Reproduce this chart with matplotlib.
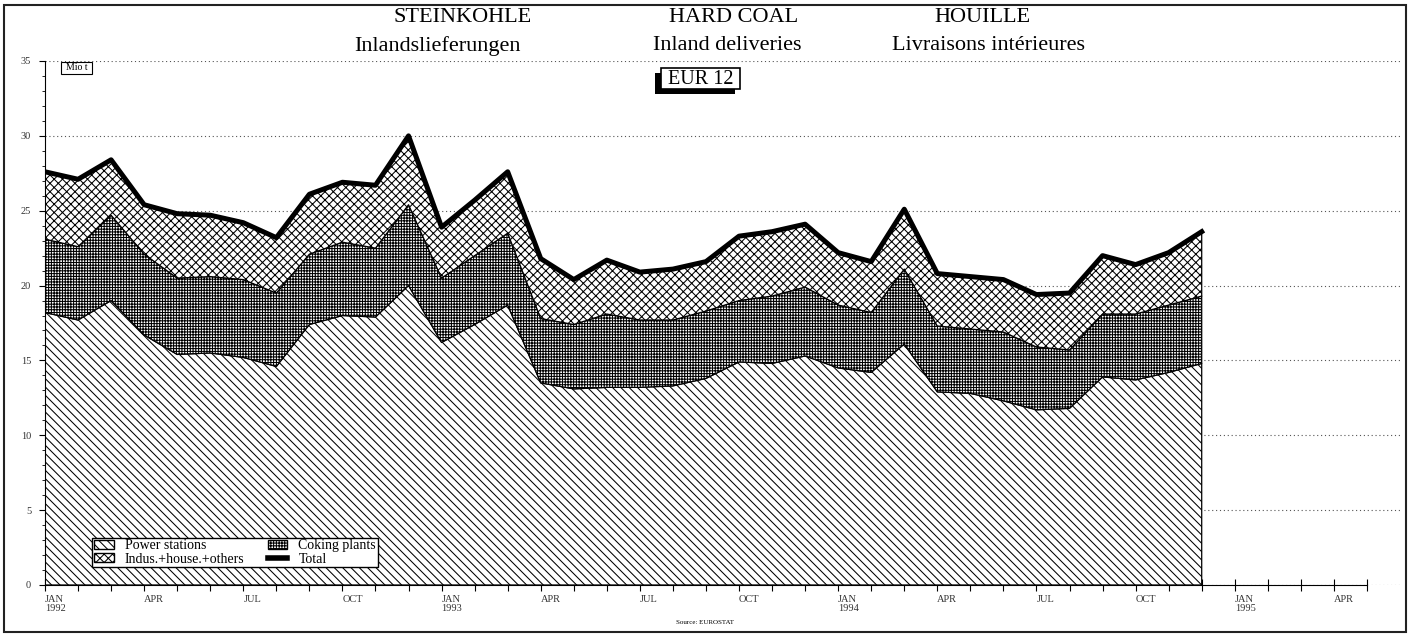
import matplotlib.pyplot as plt
import numpy as np
from matplotlib.patches import Patch, Rectangle
from matplotlib.lines import Line2D

# Monatswerte JAN 1992 .. DEC 1994 (Mio t)
power = [18.2, 17.7, 19.0, 16.7, 15.4, 15.5, 15.2, 14.6, 17.4, 18.0, 17.9, 20.0,
         16.2, 17.4, 18.7, 13.5, 13.1, 13.2, 13.2, 13.3, 13.8, 14.9, 14.8, 15.3,
         14.5, 14.2, 16.1, 12.9, 12.8, 12.3, 11.7, 11.8, 13.9, 13.7, 14.2, 14.8]
coking = [4.9, 4.9, 5.7, 5.4, 5.1, 5.1, 5.2, 4.9, 4.7, 4.9, 4.6, 5.4,
          4.3, 4.6, 4.8, 4.3, 4.3, 4.9, 4.5, 4.4, 4.5, 4.1, 4.5, 4.6,
          4.2, 4.0, 5.0, 4.4, 4.3, 4.6, 4.2, 3.9, 4.2, 4.4, 4.5, 4.5]
indus = [4.5, 4.5, 3.7, 3.3, 4.3, 4.1, 3.8, 3.7, 4.0, 4.0, 4.2, 4.6,
         3.4, 3.7, 4.1, 4.0, 3.0, 3.6, 3.2, 3.4, 3.3, 4.3, 4.3, 4.2,
         3.5, 3.4, 4.0, 3.5, 3.5, 3.5, 3.5, 3.8, 3.9, 3.3, 3.5, 4.3]

month_names = ["JAN", "APR", "JUL", "OCT"]
years = ["1992", "1993", "1994", "1995"]
y_ticks = [0, 5, 10, 15, 20, 25, 30, 35]

legend_labels = ["Power stations", "Indus.+house.+others", "Coking plants", "Total"]

plt.rcParams["font.family"] = ["Liberation Serif", "DejaVu Serif"]
plt.rcParams["hatch.linewidth"] = 0.75

W, H = 1410, 637
fig = plt.figure(figsize=(W / 100, H / 100), dpi=100)
fig.patch.set_facecolor("white")
ax = fig.add_axes([45 / W, 52 / H, 1355 / W, 524 / H])


def px_rect(x0, y0, x1, y1, **kw):
    # rechteck in pixel (oben-links Ursprung) -> figure coords
    return Rectangle((x0 / W, 1 - y1 / H), (x1 - x0) / W, (y1 - y0) / H,
                     transform=fig.transFigure, **kw)


x = np.arange(len(power))
lvl1 = np.array(power)
lvl2 = lvl1 + np.array(coking)
lvl3 = lvl2 + np.array(indus)

ax.fill_between(x, 0, lvl1, facecolor="white", edgecolor="black", hatch="\\\\\\\\", lw=0.9, zorder=2)
ax.fill_between(x, lvl1, lvl2, facecolor="white", edgecolor="black", hatch="++++++", lw=0.9, zorder=2)
ax.fill_between(x, lvl2, lvl3, facecolor="white", edgecolor="black", hatch="xxxx", lw=0.9, zorder=2)
ax.plot(x, lvl3, color="black", lw=3.6, zorder=3)

ax.set_xlim(0, 41)
ax.set_ylim(0, 35)

# gitter
ax.set_axisbelow(True)
ax.yaxis.grid(True, linestyle=(0, (1, 2.5)), color="#555555", lw=0.8)

for s in ["top", "right"]:
    ax.spines[s].set_visible(False)
ax.spines["bottom"].set_bounds(0, 40)
ax.spines["left"].set_bounds(0, 35)

ax.set_yticks(y_ticks)
ax.set_yticklabels([str(v) for v in y_ticks], fontsize=7.5, color="#333333")
ax.set_yticks(np.arange(0, 36, 1), minor=True)
ax.tick_params(axis="y", which="major", direction="out", length=4, pad=6)
ax.tick_params(axis="y", which="minor", direction="out", length=2)

# x labels: quartalsweise, JAN mit Jahr
xlabels = [""] * 41
for i in range(0, 41, 3):
    name = month_names[(i // 3) % 4]
    if name == "JAN":
        name = name + "\n" + years[i // 12]
    xlabels[i] = name
ax.set_xticks(range(41))
ax.set_xticklabels(xlabels, fontsize=7.5, color="#333333", linespacing=1.1)
for lbl in ax.get_xticklabels():
    lbl.set_ha("left")
ax.tick_params(axis="x", direction="inout", length=8, pad=3)

# legende
handles = [Patch(facecolor="white", edgecolor="black", hatch="\\\\\\\\"),
           Patch(facecolor="white", edgecolor="black", hatch="xxxx"),
           Patch(facecolor="white", edgecolor="black", hatch="++++++"),
           Line2D([], [], color="black", lw=4)]
leg = ax.legend(handles, legend_labels, ncol=2, loc="lower left",
                bbox_to_anchor=(0.035, 0.034), fontsize=10, frameon=True,
                fancybox=False, edgecolor="black", framealpha=1,
                borderpad=0.12, labelspacing=0.02, handlelength=1.4,
                handleheight=0.6, columnspacing=1.7, handletextpad=0.8,
                borderaxespad=0)
leg.get_frame().set_linewidth(1.0)
leg.set_zorder(5)

# titel
fig.text(463 / W, 1 - 18 / H, "STEINKOHLE", ha="center", va="center", fontsize=16)
fig.text(437 / W, 1 - 46 / H, "Inlandslieferungen", ha="center", va="center", fontsize=16)
fig.text(734 / W, 1 - 18 / H, "HARD COAL", ha="center", va="center", fontsize=16)
fig.text(727 / W, 1 - 46 / H, "Inland deliveries", ha="center", va="center", fontsize=16)
fig.text(982 / W, 1 - 18 / H, "HOUILLE", ha="center", va="center", fontsize=16)
fig.text(989 / W, 1 - 46 / H, "Livraisons intérieures", ha="center", va="center", fontsize=16)

# EUR 12 kasten mit schatten
fig.add_artist(px_rect(655, 73, 735, 94, fc="black", ec="black", lw=0))
fig.add_artist(px_rect(661, 68, 740, 89, fc="white", ec="black", lw=1.2))
fig.text(700.5 / W, 1 - 79 / H, "EUR 12", ha="center", va="center", fontsize=14.5)

# einheit
fig.add_artist(px_rect(61, 62, 92, 74, fc="white", ec="black", lw=0.8))
fig.text(76.5 / W, 1 - 68 / H, "Mio t", ha="center", va="center", fontsize=7)

fig.text(705 / W, 1 - 622 / H, "Source: EUROSTAT", ha="center", va="center", fontsize=5)

# rahmen
fig.add_artist(px_rect(4, 5, 1406, 632, fill=False, ec="#222222", lw=1.5))

fig.savefig("out.png", dpi=100)
